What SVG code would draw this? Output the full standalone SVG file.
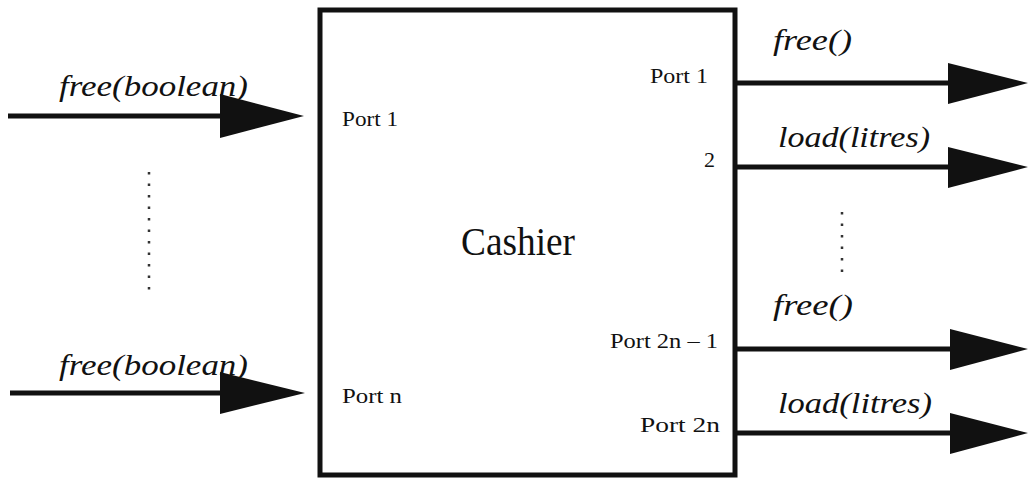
<svg xmlns="http://www.w3.org/2000/svg" width="1031" height="481" viewBox="0 0 1031 481">
<style>
.lbl{font-family:"Liberation Serif","Times New Roman",serif;font-style:italic;font-size:30px;fill:#111}
.port{font-family:"Liberation Serif","Times New Roman",serif;font-size:22px;fill:#111}
.title{font-family:"Liberation Serif","Times New Roman",serif;font-size:39px;fill:#111}
.wire{stroke:#111;stroke-width:5;fill:none}
.head{fill:#111}
.dots{stroke:#333;stroke-width:2.5;stroke-dasharray:2.5 9;fill:none}
</style>
<rect width="1031" height="481" fill="#fff"/>
<g id="cashier">
<rect x="320" y="10" width="415" height="465" fill="#fff" stroke="#111" stroke-width="5"/>
<text class="title" x="461" y="255" textLength="114" lengthAdjust="spacingAndGlyphs">Cashier</text>
<text class="port" x="342" y="126" textLength="56" lengthAdjust="spacingAndGlyphs">Port 1</text>
<text class="port" x="342" y="403" textLength="60" lengthAdjust="spacingAndGlyphs">Port n</text>
<text class="port" x="650" y="83" textLength="58" lengthAdjust="spacingAndGlyphs">Port 1</text>
<text class="port" x="715" y="167" text-anchor="end">2</text>
<text class="port" x="610" y="348" textLength="108" lengthAdjust="spacingAndGlyphs">Port 2n – 1</text>
<text class="port" x="640" y="432" textLength="80" lengthAdjust="spacingAndGlyphs">Port 2n</text>
</g>
<g id="connectors">
<line class="wire" x1="8" y1="116" x2="230" y2="116"/>
<polygon class="head" points="220,94 304,116 220,138"/>
<line class="wire" x1="10" y1="393" x2="230" y2="393"/>
<polygon class="head" points="220,372 305,393 220,414"/>
<line class="wire" x1="737" y1="83" x2="955" y2="83"/>
<polygon class="head" points="948,63 1028,83 948,104"/>
<line class="wire" x1="737" y1="167" x2="955" y2="167"/>
<polygon class="head" points="948,147 1028,167 948,188"/>
<line class="wire" x1="737" y1="349" x2="955" y2="349"/>
<polygon class="head" points="950,329 1028,349 950,370"/>
<line class="wire" x1="737" y1="433" x2="955" y2="433"/>
<polygon class="head" points="950,413 1028,433 950,454"/>
<line class="dots" x1="149" y1="172" x2="149" y2="295"/>
<line class="dots" x1="842" y1="212" x2="842" y2="275"/>
</g>
<g id="labels">
<text class="lbl" x="59" y="96" textLength="189" lengthAdjust="spacingAndGlyphs">free(boolean)</text>
<text class="lbl" x="59" y="375" textLength="189" lengthAdjust="spacingAndGlyphs">free(boolean)</text>
<text class="lbl" x="773" y="50" textLength="79" lengthAdjust="spacingAndGlyphs">free()</text>
<text class="lbl" x="778" y="147" textLength="152" lengthAdjust="spacingAndGlyphs">load(litres)</text>
<text class="lbl" x="773" y="315" textLength="80" lengthAdjust="spacingAndGlyphs">free()</text>
<text class="lbl" x="778" y="413" textLength="154" lengthAdjust="spacingAndGlyphs">load(litres)</text>
</g>
</svg>
